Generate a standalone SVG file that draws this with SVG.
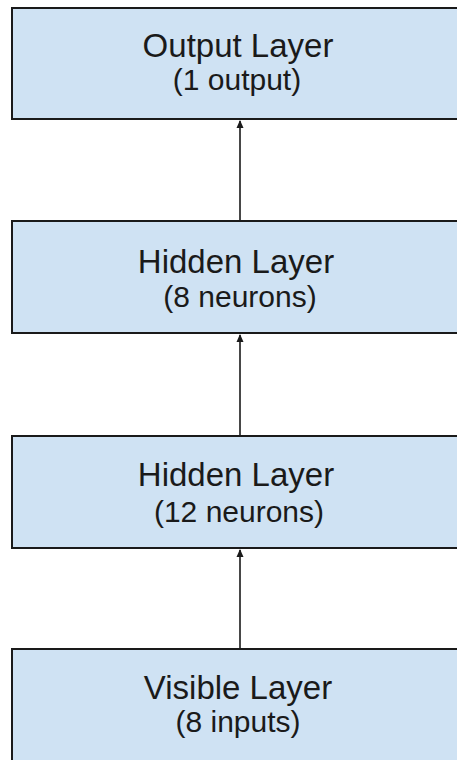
<svg xmlns="http://www.w3.org/2000/svg" width="457" height="760" viewBox="0 0 457 760">
<style>
.box{fill:#cfe2f3;stroke:#1a1a1a;stroke-width:2}
.t{font-family:"Liberation Sans",Arial,sans-serif;fill:#1a1a1a;text-anchor:middle}
.h{font-size:33px}
.s{font-size:30px}
.c{stroke:#1a1a1a;stroke-width:1.6;fill:none}
</style>
<defs>
<marker id="ah" markerWidth="8" markerHeight="8" refX="7" refY="4" orient="auto" markerUnits="userSpaceOnUse">
<path d="M0,0.5 L8,4 L0,7.5 Z" fill="#1a1a1a"/>
</marker>
</defs>
<g id="connectors">
<line class="c" x1="240" y1="221" x2="240" y2="121" marker-end="url(#ah)"/>
<line class="c" x1="240" y1="436" x2="240" y2="335" marker-end="url(#ah)"/>
<line class="c" x1="240" y1="649" x2="240" y2="550" marker-end="url(#ah)"/>
</g>
<g id="output">
<rect class="box" x="12" y="8" width="446" height="111"/>
<text class="t h" x="238" y="57">Output Layer</text>
<text class="t s" x="237" y="90">(1 output)</text>
</g>
<g id="hidden1">
<rect class="box" x="12" y="221" width="446" height="112"/>
<text class="t h" x="236" y="273">Hidden Layer</text>
<text class="t s" x="240" y="307">(8 neurons)</text>
</g>
<g id="hidden2">
<rect class="box" x="12" y="436" width="446" height="112"/>
<text class="t h" x="236" y="486">Hidden Layer</text>
<text class="t s" x="239" y="522">(12 neurons)</text>
</g>
<g id="visible">
<rect class="box" x="12" y="649" width="446" height="120"/>
<text class="t h" x="238" y="699">Visible Layer</text>
<text class="t s" x="238" y="732">(8 inputs)</text>
</g>
</svg>
